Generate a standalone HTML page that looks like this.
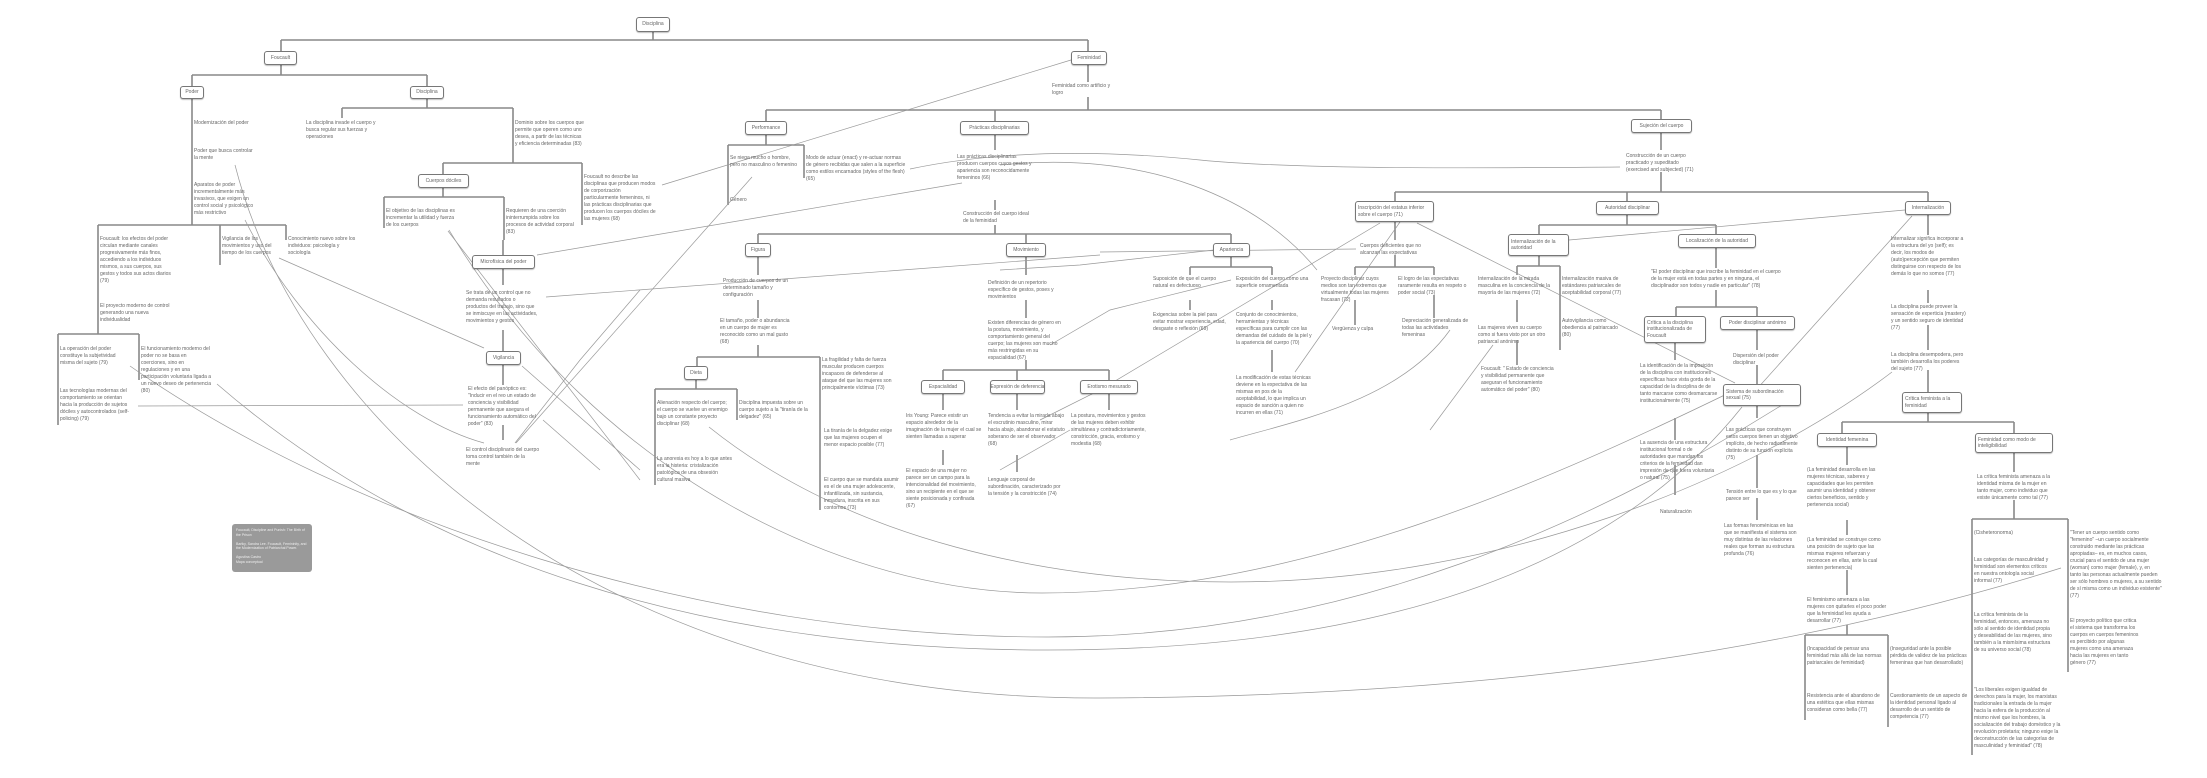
<!DOCTYPE html>
<html><head><meta charset="utf-8">
<style>
html,body{margin:0;padding:0;background:#fff;}
body{width:2207px;height:778px;position:relative;overflow:hidden;font-family:"Liberation Sans",sans-serif;color:#666;}
svg{position:absolute;left:0;top:0;}
.b{position:absolute;box-sizing:border-box;border:1px solid #777;border-radius:3px;background:#fff;font-size:5px;line-height:6.5px;display:flex;align-items:center;justify-content:center;text-align:center;padding:0 1px;box-shadow:0 1px 1px rgba(0,0,0,.25);white-space:nowrap;overflow:hidden;}
.bl{justify-content:flex-start;text-align:left;white-space:normal;padding:0 2px;}
.t{position:absolute;font-size:5px;line-height:7px;width:76px;}
.g{position:absolute;left:232px;top:524px;width:80px;height:48px;background:#9a9a9a;border-radius:3px;color:#eee;font-size:3.5px;line-height:4.5px;padding:4px;box-sizing:border-box;}
</style></head><body>
<svg width="2207" height="778" viewBox="0 0 2207 778">
<g stroke="#888" stroke-width="1.6" fill="none">
<path d="M653 32V40M281 40H1088M281 40V51M1088 40V51"/>
<path d="M281 65V75M192 75H427M192 75V86M427 75V86"/>
<path d="M192 99V225M98 225H286M98 225V334M220 225V265M286 225V240M58 334H139M58 334V425M139 334V380"/>
<path d="M427 99V108M342 108H513M342 108V118M513 108V163M443 163H582M443 163V174M582 163V225"/>
<path d="M443 188V197M384 197H504M384 197V228M504 197V240"/>
<path d="M503 240V255M503 269V285M503 330V351M503 365V385M503 425V440"/>
<path d="M1088 65V82M1088 97V110M766 110H1661M766 110V121M995 110V121M1661 110V119"/>
<path d="M766 135V145M728 145H804M728 145V205M804 145V178"/>
<path d="M995 135V150M995 200V210M995 225V234M758 234H1231M758 234V243M1026 234V243M1231 234V243"/>
<path d="M758 257V275M758 300V318M758 345V357M697 357H820M697 357V366M820 357V510"/>
<path d="M696 380V389M655 389H737M655 389V485M737 389V420"/>
<path d="M1026 257V275M1026 300V318M1026 360V370M943 370H1109M943 370V380M1017 370V380M1109 370V380"/>
<path d="M943 394V410M943 450V465M1017 394V410M1017 455V472M1109 394V410"/>
<path d="M1231 257V267M1190 267H1272M1190 267V275M1272 267V275M1190 300V310M1272 300V310M1272 350V372"/>
<path d="M1661 133V150M1661 172V192M1395 192H1928M1395 192V201M1627 192V201M1928 192V201"/>
<path d="M1395 222V240M1395 255V267M1355 267H1434M1355 267V275M1434 267V275M1355 300V325M1434 295V318"/>
<path d="M1627 215V225M1539 225H1716M1539 225V234M1716 225V234"/>
<path d="M1539 256V266M1517 266H1560M1517 266V275M1560 266V350M1517 300V322M1517 340V365"/>
<path d="M1716 248V268M1716 290V307M1676 307H1757M1676 307V316M1757 307V316"/>
<path d="M1675 343V360M1675 418V440M1675 465V495M1757 330V350M1757 365V384M1757 406V418M1757 455V488M1757 498V520"/>
<path d="M1928 215V235M1928 290V303M1928 325V350M1928 370V392M1928 413V422M1842 422H2014M1842 422V433M2014 422V433"/>
<path d="M1847 447V465M1847 520V535M1847 570V595M1847 625V635M1805 635H1888M1805 635V720M1888 635V727"/>
<path d="M2014 453V472M2014 500V519M1972 519H2068M1972 519V755M2068 519V672"/>
</g>
<g stroke="#999" stroke-width="0.7" fill="none">
<path d="M1071 60L662 185"/>
<path d="M752 177L516 443"/>
<path d="M962 183L537 255"/>
<path d="M1100 255L546 297"/>
<path d="M910 169C1000 150 1100 150 1200 160S1500 168 1620 167"/>
<path d="M1000 165C1150 150 1260 200 1317 270"/>
<path d="M1380 223L1100 390L1040 420"/>
<path d="M1400 222L1295 372"/>
<path d="M1417 223L1735 383"/>
<path d="M1569 240L1905 210"/>
<path d="M1912 216L1756 390"/>
<path d="M1493 345L1430 430"/>
<path d="M1214 250L1080 265L1000 270"/>
<path d="M1356 249L1100 252"/>
<path d="M1231 280L1110 310L1050 345"/>
<path d="M279 258L484 348"/>
<path d="M138 406L463 405"/>
<path d="M448 231L640 480"/>
<path d="M522 366L640 470"/>
<path d="M543 420L600 470"/>
<path d="M515 443L580 360L640 290"/>
<path d="M245 220C300 330 400 420 484 443"/>
<path d="M235 165C300 420 600 700 1100 698C1500 696 1800 650 2061 568"/>
<path d="M217 384C420 560 700 650 1048 650C1400 650 1620 560 1742 407"/>
<path d="M130 366C350 520 700 637 1048 637C1350 637 1600 520 1790 400"/>
<path d="M449 230C600 480 850 593 1042 593C1300 593 1550 480 1735 390"/>
<path d="M709 427C850 540 1050 582 1231 582C1500 582 1750 480 1892 372"/>
<path d="M1230 440C1300 420 1400 400 1450 330"/>
<path d="M1000 470L1070 430"/>
</g>
</svg>

<div class="b" style="left:636px;top:17px;width:34px;height:15px">Disciplina</div>
<div class="b" style="left:264px;top:51px;width:33px;height:14px">Foucault</div>
<div class="b" style="left:1071px;top:51px;width:36px;height:14px">Feminidad</div>
<div class="b" style="left:180px;top:86px;width:24px;height:13px">Poder</div>
<div class="b" style="left:410px;top:86px;width:34px;height:13px">Disciplina</div>
<div class="b" style="left:418px;top:174px;width:51px;height:14px">Cuerpos dóciles</div>
<div class="b" style="left:472px;top:255px;width:63px;height:14px">Microfísica del poder</div>
<div class="b" style="left:486px;top:351px;width:35px;height:14px">Vigilancia</div>
<div class="b" style="left:745px;top:121px;width:42px;height:14px">Performance</div>
<div class="b" style="left:960px;top:121px;width:69px;height:14px">Prácticas disciplinarias</div>
<div class="b" style="left:745px;top:243px;width:26px;height:14px">Figura</div>
<div class="b" style="left:1006px;top:243px;width:40px;height:14px">Movimiento</div>
<div class="b" style="left:1213px;top:243px;width:37px;height:14px">Apariencia</div>
<div class="b" style="left:684px;top:366px;width:24px;height:14px">Dieta</div>
<div class="b" style="left:921px;top:380px;width:44px;height:14px">Espacialidad</div>
<div class="b" style="left:990px;top:380px;width:55px;height:14px">Expresión de deferencia</div>
<div class="b" style="left:1080px;top:380px;width:58px;height:14px">Erotismo mesurado</div>
<div class="b" style="left:1631px;top:119px;width:61px;height:14px">Sujeción del cuerpo</div>
<div class="b bl" style="left:1355px;top:201px;width:79px;height:21px">Inscripción del estatus inferior sobre el cuerpo (71)</div>
<div class="b" style="left:1596px;top:201px;width:63px;height:14px">Autoridad disciplinar</div>
<div class="b" style="left:1905px;top:201px;width:46px;height:14px">Internalización</div>
<div class="b bl" style="left:1508px;top:234px;width:61px;height:22px">Internalización de la autoridad</div>
<div class="b" style="left:1678px;top:234px;width:78px;height:14px">Localización de la autoridad</div>
<div class="b bl" style="left:1644px;top:316px;width:62px;height:27px">Crítica a la disciplina institucionalizada de Foucault</div>
<div class="b" style="left:1720px;top:316px;width:75px;height:14px">Poder disciplinar anónimo</div>
<div class="b bl" style="left:1723px;top:384px;width:78px;height:22px">Sistema de subordinación sexual (75)</div>
<div class="b bl" style="left:1902px;top:392px;width:60px;height:21px">Crítica feminista a la feminidad</div>
<div class="b" style="left:1817px;top:433px;width:60px;height:14px">Identidad femenina</div>
<div class="b bl" style="left:1975px;top:433px;width:78px;height:20px">Feminidad como modo de inteligibilidad</div>

<div class="g">Foucault, Discipline and Punish: The Birth of the Prison<br><br>Bartky, Sandra Lee. Foucault, Femininity, and the Modernization of Patriarchal Power.<br><br>Agustina Castro<br>Mapa conceptual</div>

<div class="t" style="left:194px;top:120px">Modernización del poder</div>
<div class="t" style="left:194px;top:148px;width:60px">Poder que busca controlar la mente</div>
<div class="t" style="left:194px;top:182px;width:70px">Aparatos de poder incrementalmente más invasivos, que exigen un control social y psicológico más restrictivo</div>
<div class="t" style="left:306px;top:120px;width:70px">La disciplina invade el cuerpo y busca regular sus fuerzas y operaciones</div>
<div class="t" style="left:515px;top:120px;width:70px">Dominio sobre los cuerpos que permite que operen como uno desea, a partir de las técnicas y eficiencia determinadas (83)</div>
<div class="t" style="left:584px;top:174px;width:72px">Foucault no describe las disciplinas que producen modos de corporización particularmente femeninos, ni las prácticas disciplinarias que producen los cuerpos dóciles de las mujeres (68)</div>
<div class="t" style="left:386px;top:208px;width:74px">El objetivo de las disciplinas es incrementar la utilidad y fuerza de los cuerpos</div>
<div class="t" style="left:506px;top:208px;width:72px">Requieren de una coerción ininterrumpida sobre los procesos de actividad corporal (83)</div>
<div class="t" style="left:100px;top:236px;width:74px">Foucault: los efectos del poder circulan mediante canales progresivamente más finos, accediendo a los individuos mismos, a sus cuerpos, sus gestos y todos sus actos diarios (79)</div>
<div class="t" style="left:222px;top:236px;width:62px">Vigilancia de los movimientos y uso del tiempo de los cuerpos</div>
<div class="t" style="left:288px;top:236px;width:72px">Conocimiento nuevo sobre los individuos: psicología y sociología</div>
<div class="t" style="left:100px;top:303px;width:74px">El proyecto moderno de control generando una nueva individualidad</div>
<div class="t" style="left:60px;top:346px;width:68px">La operación del poder constituye la subjetividad misma del sujeto (79)</div>
<div class="t" style="left:141px;top:346px;width:72px">El funcionamiento moderno del poder no se basa en coerciones, sino en regulaciones y en una participación voluntaria ligada a un nuevo deseo de pertenencia (80)</div>
<div class="t" style="left:60px;top:388px;width:72px">Las tecnologías modernas del comportamiento se orientan hacia la producción de sujetos dóciles y autocontrolados (self-policing) (79)</div>
<div class="t" style="left:466px;top:290px;width:72px">Se trata de un control que no demanda resultados o productos del trabajo, sino que se inmiscuye en las actividades, movimientos y gestos</div>
<div class="t" style="left:468px;top:386px;width:72px">El efecto del panóptico es: "Inducir en el reo un estado de conciencia y visibilidad permanente que asegura el funcionamiento automático del poder" (83)</div>
<div class="t" style="left:466px;top:447px;width:74px">El control disciplinario del cuerpo toma control también de la mente</div>

<div class="t" style="left:1052px;top:83px;width:62px">Feminidad como artificio y logro</div>
<div class="t" style="left:730px;top:155px;width:70px">Se niega mucho o hombre, pero no masculino o femenino</div>
<div class="t" style="left:730px;top:197px;width:40px">Género</div>
<div class="t" style="left:806px;top:155px;width:100px">Modo de actuar (enact) y re-actuar normas de género recibidas que salen a la superficie como estilos encarnados (styles of the flesh) (65)</div>
<div class="t" style="left:957px;top:154px;width:80px">Las prácticas disciplinarias producen cuerpos cuyos gestos y apariencia son reconocidamente femeninos (66)</div>
<div class="t" style="left:963px;top:211px;width:70px">Construcción del cuerpo ideal de la feminidad</div>
<div class="t" style="left:723px;top:278px;width:72px">Producción de cuerpos de un determinado tamaño y configuración</div>
<div class="t" style="left:720px;top:318px;width:75px">El tamaño, poder o abundancia en un cuerpo de mujer es reconocido como un mal gusto (68)</div>
<div class="t" style="left:822px;top:357px;width:72px">La fragilidad y falta de fuerza muscular producen cuerpos incapaces de defenderse al ataque del que las mujeres son principalmente víctimas (73)</div>
<div class="t" style="left:657px;top:400px;width:72px">Alienación respecto del cuerpo; el cuerpo se vuelve un enemigo bajo un constante proyecto disciplinar (68)</div>
<div class="t" style="left:739px;top:400px;width:76px">Disciplina impuesta sobre un cuerpo sujeto a la "tiranía de la delgadez" (65)</div>
<div class="t" style="left:657px;top:456px;width:76px">La anorexia es hoy a lo que antes era la histeria: cristalización patológica de una obsesión cultural masiva</div>
<div class="t" style="left:824px;top:428px;width:72px">La tiranía de la delgadez exige que las mujeres ocupen el menor espacio posible (77)</div>
<div class="t" style="left:824px;top:477px;width:78px">El cuerpo que se mandata asumir es el de una mujer adolescente, infantilizada, sin sustancia, inmadura, inscrita en sus contornos (73)</div>
<div class="t" style="left:906px;top:413px;width:76px">Iris Young: Parece existir un espacio alrededor de la imaginación de la mujer el cual se sienten llamadas a superar</div>
<div class="t" style="left:906px;top:468px;width:76px">El espacio de una mujer no parece ser un campo para la intencionalidad del movimiento, sino un recipiente en el que se siente posicionada y confinada (67)</div>
<div class="t" style="left:988px;top:280px;width:72px">Definición de un repertorio específico de gestos, poses y movimientos</div>
<div class="t" style="left:988px;top:320px;width:76px">Existen diferencias de género en la postura, movimiento, y comportamiento general del cuerpo; las mujeres son mucho más restringidas en su espacialidad (67)</div>
<div class="t" style="left:988px;top:413px;width:78px">Tendencia a evitar la mirada abajo el escrutinio masculino, mirar hacia abajo, abandonar el estatuto soberano de ser el observador (68)</div>
<div class="t" style="left:988px;top:477px;width:76px">Lenguaje corporal de subordinación, caracterizado por la tensión y la constricción (74)</div>
<div class="t" style="left:1071px;top:413px;width:76px">La postura, movimientos y gestos de las mujeres deben exhibir simultánea y contradictoriamente, constricción, gracia, erotismo y modestia (68)</div>
<div class="t" style="left:1153px;top:276px;width:76px">Suposición de que el cuerpo natural es defectuoso</div>
<div class="t" style="left:1153px;top:312px;width:76px">Exigencias sobre la piel para evitar mostrar experiencia, edad, desgaste o reflexión (69)</div>
<div class="t" style="left:1236px;top:276px;width:76px">Exposición del cuerpo como una superficie ornamentada</div>
<div class="t" style="left:1236px;top:312px;width:78px">Conjunto de conocimientos, herramientas y técnicas específicas para cumplir con las demandas del cuidado de la piel y la apariencia del cuerpo (70)</div>
<div class="t" style="left:1236px;top:375px;width:78px">La modificación de estas técnicas deviene en la expectativa de las mismas en pos de la aceptabilidad, lo que implica un espacio de sanción a quien no incurren en ellas (71)</div>
<div class="t" style="left:1626px;top:153px;width:72px">Construcción de un cuerpo practicado y supeditado (exercised and subjected) (71)</div>
<div class="t" style="left:1360px;top:243px;width:72px">Cuerpos deficientes que no alcanzan las expectativas</div>
<div class="t" style="left:1321px;top:276px;width:72px">Proyecto disciplinar cuyos medios son tan extremos que virtualmente todas las mujeres fracasan (72)</div>
<div class="t" style="left:1398px;top:276px;width:78px">El logro de las expectativas raramente resulta en respeto o poder social (73)</div>
<div class="t" style="left:1332px;top:326px;width:60px">Vergüenza y culpa</div>
<div class="t" style="left:1402px;top:318px;width:70px">Depreciación generalizada de todas las actividades femeninas</div>
<div class="t" style="left:1478px;top:276px;width:80px">Internalización de la mirada masculina en la conciencia de la mayoría de las mujeres (72)</div>
<div class="t" style="left:1562px;top:276px;width:70px">Internalización masiva de estándares patriarcales de aceptabilidad corporal (77)</div>
<div class="t" style="left:1478px;top:325px;width:70px">Las mujeres viven su cuerpo como si fuera visto por un otro patriarcal anónimo</div>
<div class="t" style="left:1562px;top:318px;width:66px">Autovigilancia como obediencia al patriarcado (80)</div>
<div class="t" style="left:1481px;top:366px;width:76px">Foucault: " Estado de conciencia y visibilidad permanente que aseguran el funcionamiento automático del poder" (80)</div>
<div class="t" style="left:1651px;top:269px;width:130px">"El poder disciplinar que inscribe la feminidad en el cuerpo de la mujer está en todas partes y en ninguna, el disciplinador son todos y nadie en particular" (78)</div>
<div class="t" style="left:1733px;top:353px;width:60px">Dispersión del poder disciplinar</div>
<div class="t" style="left:1640px;top:363px;width:78px">La identificación de la imposición de la disciplina con instituciones específicas hace vista gorda de la capacidad de la disciplina de de tanto marcarse como desmarcarse institucionalmente (75)</div>
<div class="t" style="left:1640px;top:440px;width:78px">La ausencia de una estructura institucional formal o de autoridades que mandan los criterios de la feminidad dan impresión de que fuera voluntaria o natural (75)</div>
<div class="t" style="left:1660px;top:509px;width:60px">Naturalización</div>
<div class="t" style="left:1726px;top:427px;width:74px">Las prácticas que construyen estos cuerpos tienen un objetivo implícito, de hecho radicalmente distinto de su función explícita (75)</div>
<div class="t" style="left:1726px;top:489px;width:72px">Tensión entre lo que es y lo que parece ser</div>
<div class="t" style="left:1724px;top:523px;width:76px">Las formas fenoménicas en las que se manifiesta el sistema son muy distintas de las relaciones reales que forman su estructura profunda (76)</div>
<div class="t" style="left:1891px;top:236px;width:76px">Internalizar significa incorporar a la estructura del yo (self); es decir, los modos de (auto)percepción que permiten distinguirse con respecto de los demás lo que no somos (77)</div>
<div class="t" style="left:1891px;top:304px;width:76px">La disciplina puede proveer la sensación de experticia (mastery) y un sentido seguro de identidad (77)</div>
<div class="t" style="left:1891px;top:352px;width:76px">La disciplina desempodera, pero también desarrolla los poderes del sujeto (77)</div>
<div class="t" style="left:1807px;top:467px;width:78px">(La feminidad desarrolla en las mujeres técnicas, saberes y capacidades que les permiten asumir una identidad y obtener ciertos beneficios, sentido y pertenencia social)</div>
<div class="t" style="left:1807px;top:537px;width:78px">(La feminidad se construye como una posición de sujeto que las mismas mujeres refuerzan y reconocen en ellas, ante la cual sienten pertenencia)</div>
<div class="t" style="left:1807px;top:597px;width:80px">El feminismo amenaza a las mujeres con quitarles el poco poder que la feminidad les ayuda a desarrollar (77)</div>
<div class="t" style="left:1807px;top:646px;width:78px">(Incapacidad de pensar una feminidad más allá de las normas patriarcales de feminidad)</div>
<div class="t" style="left:1890px;top:646px;width:78px">(Inseguridad ante la posible pérdida de validez de las prácticas femeninas que han desarrollado)</div>
<div class="t" style="left:1807px;top:693px;width:78px">Resistencia ante el abandono de una estética que ellas mismas consideran como bella (77)</div>
<div class="t" style="left:1890px;top:693px;width:78px">Cuestionamiento de un aspecto de la identidad personal ligado al desarrollo de un sentido de competencia (77)</div>
<div class="t" style="left:1977px;top:474px;width:78px">La crítica feminista amenaza a la identidad misma de la mujer en tanto mujer, como individuo que existe únicamente como tal (77)</div>
<div class="t" style="left:1974px;top:530px;width:60px">(Cisheteronorma)</div>
<div class="t" style="left:1974px;top:557px;width:76px">Las categorías de masculinidad y feminidad son elementos críticos en nuestra ontología social informal (77)</div>
<div class="t" style="left:1974px;top:612px;width:78px">La crítica feminista de la feminidad, entonces, amenaza no sólo al sentido de identidad propia y deseabilidad de las mujeres, sino también a la mismísima estructura de su universo social (78)</div>
<div class="t" style="left:1974px;top:687px;width:90px">"Los liberales exigen igualdad de derechos para la mujer, los marxistas tradicionales la entrada de la mujer hacia la esfera de la producción al mismo nivel que los hombres, la socialización del trabajo doméstico y la revolución proletaria; ninguno exige la deconstrucción de las categorías de masculinidad y feminidad" (78)</div>
<div class="t" style="left:2070px;top:530px;width:92px">"Tener un cuerpo sentido como "femenino" –un cuerpo socialmente construido mediante las prácticas apropiadas– es, en muchos casos, crucial para el sentido de una mujer (woman) como mujer (female), y, en tanto las personas actualmente pueden ser sólo hombres o mujeres, a su sentido de sí misma como un individuo existente" (77)</div>
<div class="t" style="left:2070px;top:618px;width:70px">El proyecto político que critica el sistema que transforma los cuerpos en cuerpos femeninos es percibido por algunas mujeres como una amenaza hacia las mujeres en tanto género (77)</div>
</body></html>
